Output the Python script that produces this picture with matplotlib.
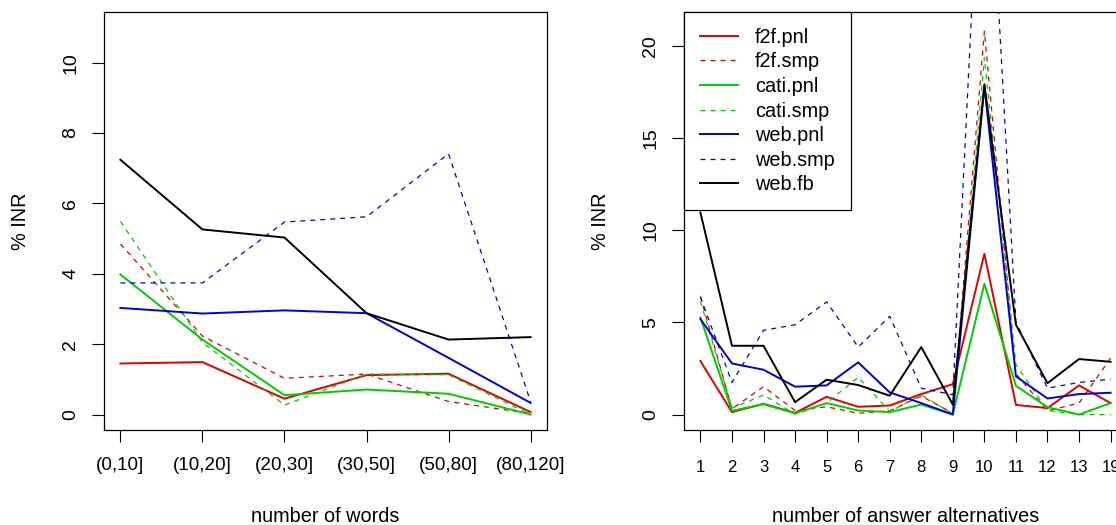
import matplotlib
matplotlib.use("Agg")
import matplotlib.pyplot as plt
import numpy as np

plt.rcParams['font.family'] = ['Liberation Sans', 'DejaVu Sans']

# ---- data: left panel (number of words) ----
word_cats = ["(0,10]", "(10,20]", "(20,30]", "(30,50]", "(50,80]", "(80,120]"]
w_f2f_pnl = [1.45, 1.49, 0.45, 1.12, 1.16, 0.07]
w_f2f_smp = [4.85, 2.23, 1.03, 1.15, 0.37, 0.03]
w_cati_pnl = [3.98, 2.13, 0.55, 0.71, 0.59, 0.00]
w_cati_smp = [5.49, 2.05, 0.27, 1.15, 1.13, 0.00]
w_web_pnl = [3.03, 2.87, 2.96, 2.88, 1.61, 0.33]
w_web_smp = [3.74, 3.74, 5.47, 5.62, 7.41, 0.36]
w_web_fb = [7.24, 5.26, 5.03, 2.88, 2.13, 2.20]

# ---- data: right panel (number of answer alternatives) ----
alt_cats = ["1", "2", "3", "4", "5", "6", "7", "8", "9", "10", "11", "12", "13", "19"]
a_f2f_pnl = [2.90, 0.13, 0.58, 0.09, 0.96, 0.42, 0.49, 1.11, 1.65, 8.72, 0.52, 0.35, 1.58, 0.62]
a_f2f_smp = [6.41, 0.31, 1.51, 0.22, 0.42, 0.07, 0.20, 1.00, 0.07, 20.8, 2.20, 0.20, 0.62, 3.06]
a_cati_pnl = [5.26, 0.20, 0.56, 0.07, 0.62, 0.22, 0.13, 0.54, 0.00, 7.09, 1.56, 0.40, 0.00, 0.62]
a_cati_smp = [6.14, 0.35, 1.06, 0.02, 0.62, 2.03, 0.16, 1.06, 0.04, 19.37, 2.70, 0.22, 0.00, 0.00]
a_web_pnl = [5.18, 2.77, 2.43, 1.51, 1.58, 2.83, 1.20, 0.62, 0.00, 17.8, 2.07, 0.87, 1.11, 1.18]
a_web_smp = [6.38, 1.74, 4.57, 4.87, 6.11, 3.66, 5.33, 1.43, 1.07, 36.0, 5.00, 1.43, 1.74, 1.92]
a_web_fb = [10.96, 3.73, 3.73, 0.67, 1.89, 1.60, 1.02, 3.66, 0.54, 17.92, 4.87, 1.70, 3.01, 2.86]

series_names = ["f2f.pnl", "f2f.smp", "cati.pnl", "cati.smp", "web.pnl", "web.smp", "web.fb"]
series_colors = ["#E00000", "#E00000", "#00CD00", "#00CD00", "#0000DD", "#0000DD", "black"]
series_dashed = [False, True, False, True, False, True, False]

W, H = 1116, 525
fig = plt.figure(figsize=(W / 100, H / 100), dpi=100)

def px_axes(l, t, r, b):
    return fig.add_axes([l / W, 1 - b / H, (r - l) / W, (b - t) / H])

ax1 = px_axes(104, 12, 547, 430)
ax2 = px_axes(684, 12, 1127, 430)

LAB_FS = 14.3
YT_FS = 14.0

def style(ax, ylim, yticks, xlabels, xlabel, xt_fs, xpad, lab_x):
    ax.set_ylim(*ylim)
    n = len(xlabels)
    ax.set_xlim(1 - 0.04 * (n - 1), n + 0.04 * (n - 1))
    ax.set_xticks(np.arange(1, n + 1))
    ax.set_xticklabels(xlabels, fontsize=xt_fs)
    ax.set_yticks(yticks)
    ax.set_yticklabels([str(v) for v in yticks], fontsize=YT_FS, rotation=90, va='center')
    ax.tick_params(axis='both', direction='out', length=8.6, width=0.8, color='black')
    ax.tick_params(axis='x', pad=xpad)
    ax.tick_params(axis='y', pad=9.3)
    for s in ax.spines.values():
        s.set_linewidth(0.9)
        s.set_color('black')
    ax.set_xlabel(xlabel, fontsize=LAB_FS)
    ax.set_ylabel("% INR", fontsize=LAB_FS)
    ax.xaxis.set_label_coords(0.5, -(516 - 430) / 418)
    ax.xaxis.label.set_va('center')
    ax.yaxis.set_label_coords(-lab_x / 443, 0.5)
    ax.yaxis.label.set_va('center')
    ax.yaxis.label.set_ha('center')

def draw(ax, data, n):
    x = np.arange(1, n + 1)
    for vals, name, c, d in zip(data, series_names, series_colors, series_dashed):
        if d:
            ax.plot(x, vals, color=c, lw=0.9, dashes=(4, 4), label=name)
        else:
            ax.plot(x, vals, color=c, lw=1.4, label=name)

draw(ax1, [w_f2f_pnl, w_f2f_smp, w_cati_pnl, w_cati_smp, w_web_pnl, w_web_smp, w_web_fb], 6)
style(ax1, (-0.44, 11.44), [0, 2, 4, 6, 8, 10], word_cats, "number of words", 13.6, 10.6, 83)

draw(ax2, [a_f2f_pnl, a_f2f_smp, a_cati_pnl, a_cati_smp, a_web_pnl, a_web_smp, a_web_fb], 14)
style(ax2, (-0.84, 21.84), [0, 5, 10, 15, 20], alt_cats, "number of answer alternatives", 12, 12.7, 83)

leg = ax2.legend(loc='upper left', bbox_to_anchor=(0, 1), borderaxespad=0,
                 fancybox=False, framealpha=1, edgecolor='black', fontsize=LAB_FS,
                 handlelength=1.93, handletextpad=0.84, labelspacing=0.28, borderpad=0.8)
leg.get_frame().set_linewidth(0.9)

fig.savefig("out.png", dpi=100)
